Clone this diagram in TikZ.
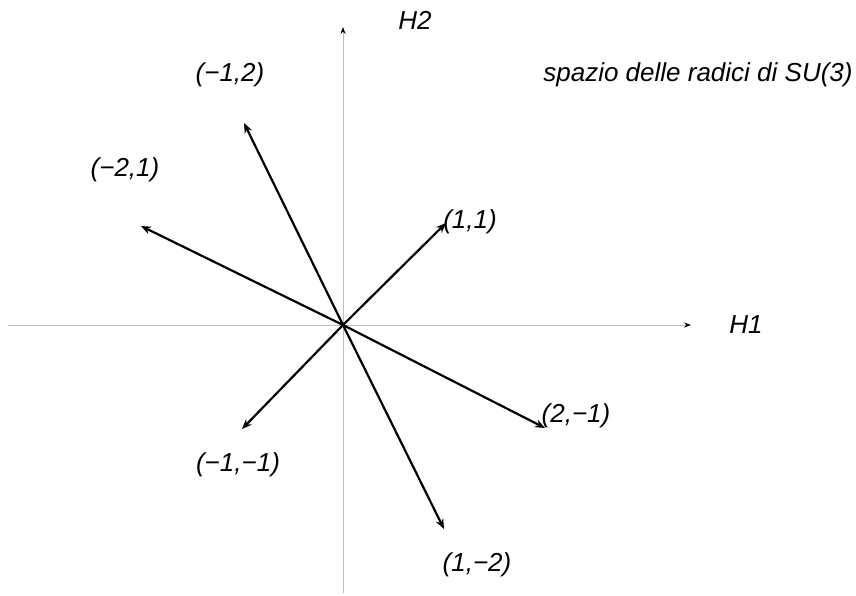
\documentclass[tikz,border=0pt]{standalone}
\usepackage{fontspec}
\setmainfont{Liberation Sans}
\usetikzlibrary{arrows.meta}
\begin{document}
\begin{tikzpicture}[x=1pt,y=-1pt,
  axis/.style={draw=black!25,line width=1pt,-{Stealth[length=7pt,width=5pt,color=black]}},
  root/.style={draw=black,line width=2.2pt,-{Stealth[length=10pt,width=8pt]}},
  lbl/.style={font=\itshape\fontsize{26}{30}\selectfont,inner sep=0pt}]
\useasboundingbox (0,0) rectangle (856,595);
\coordinate (O) at (343,325);
\coordinate (xs) at (8,325);
\coordinate (xe) at (691,325);
\coordinate (ys) at (343,593);
\coordinate (ye) at (343,27);
\draw[axis] (xs) -- (xe);
\draw[axis] (ys) -- (ye);
\coordinate (a11) at (446,223);
\coordinate (amm) at (242,429);
\coordinate (am12) at (244,123);
\coordinate (a1m2) at (444,529);
\coordinate (am21) at (141,226);
\coordinate (a2m1) at (545,428);
\draw[root] (O) -- (a11);
\draw[root] (O) -- (amm);
\draw[root] (O) -- (am12);
\draw[root] (O) -- (a1m2);
\draw[root] (O) -- (am21);
\draw[root] (O) -- (a2m1);
\node[lbl] (H2) at (415,20) {H2};
\node[lbl] (H1) at (746,325) {H1};
\node[lbl] (l12) at (230,75) {(−1,2)};
\node[lbl] (t) at (698,75) {spazio delle radici di SU(3)};
\node[lbl] (l21) at (125,170) {(−2,1)};
\node[lbl] (l11) at (470,222) {(1,1)};
\node[lbl] (l2m1) at (576,416) {(2,−1)};
\node[lbl] (lmm) at (238,465) {(−1,−1)};
\node[lbl] (l1m2) at (477,565) {(1,−2)};
\end{tikzpicture}
\end{document}
